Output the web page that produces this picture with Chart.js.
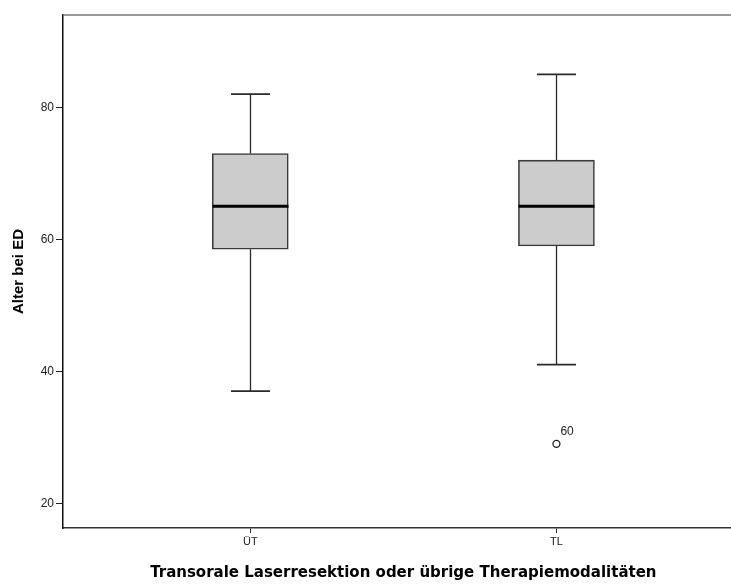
<!DOCTYPE html>
<html>
<head>
<meta charset="utf-8">
<script src="https://cdn.jsdelivr.net/npm/chart.js@4"></script>
<style>
    html, body { margin: 0; padding: 0; background: #fff; }
    #wrap { width: 731px; height: 584px; overflow: hidden; }
</style>
</head>
<body>
<div id="wrap"><canvas id="boxChart" width="749" height="584"></canvas></div>
<script>
// Age at diagnosis per therapy group (box plot statistics)
const groups = ['ÜT', 'TL'];
const groupPos = [1, 2];
const whiskerLow = [37, 41];
const q1 = [58.5, 59];
const median = [65, 65];
const q3 = [73, 72];
const whiskerHigh = [82, 85];

// Outliers: group index, value, case number
const outlierGroup = [1];
const outlierValue = [29];
const outlierCase = ['60'];

const yTicks = [20, 40, 60, 80];

const boxData = groupPos.map((x, i) => ({ x: x, y: [q1[i], q3[i]] }));
const outlierData = outlierGroup.map((g, i) => ({ x: groupPos[g], y: outlierValue[i], label: outlierCase[i] }));

// whiskers, caps, median lines and outlier labels, placed with the chart scales
const boxExtras = {
    id: 'boxExtras',
    afterDatasetsDraw(chart) {
        const { ctx, scales: { x, y } } = chart;
        const capHalf = 19.5;
        const boxHalf = 38;
        ctx.save();
        groupPos.forEach((pos, i) => {
            const cx = Math.round(x.getPixelForValue(pos)) + 0.5;
            ctx.strokeStyle = '#2a2a2a';
            ctx.lineWidth = 1.3;
            // stems
            ctx.beginPath();
            ctx.moveTo(cx, y.getPixelForValue(whiskerHigh[i]));
            ctx.lineTo(cx, y.getPixelForValue(q3[i]));
            ctx.moveTo(cx, y.getPixelForValue(q1[i]));
            ctx.lineTo(cx, y.getPixelForValue(whiskerLow[i]));
            ctx.stroke();
            // caps
            ctx.lineWidth = 1.8;
            ctx.beginPath();
            [whiskerHigh[i], whiskerLow[i]].forEach(v => {
                const py = y.getPixelForValue(v);
                ctx.moveTo(cx - capHalf, py);
                ctx.lineTo(cx + capHalf, py);
            });
            ctx.stroke();
            // median
            ctx.strokeStyle = '#000';
            ctx.lineWidth = 3;
            ctx.beginPath();
            const my = y.getPixelForValue(median[i]);
            ctx.moveTo(cx - boxHalf, my);
            ctx.lineTo(cx + boxHalf, my);
            ctx.stroke();
        });
        // case numbers next to outliers
        ctx.fillStyle = '#222';
        ctx.font = '12px "Liberation Sans", Arial, sans-serif';
        ctx.textAlign = 'left';
        ctx.textBaseline = 'middle';
        outlierData.forEach(p => {
            ctx.fillText(p.label, x.getPixelForValue(p.x) + 4, y.getPixelForValue(p.y) - 12);
        });
        // top frame line
        const area = chart.chartArea;
        ctx.strokeStyle = '#777';
        ctx.lineWidth = 1.5;
        ctx.beginPath();
        ctx.moveTo(area.left, area.top);
        ctx.lineTo(area.right, area.top);
        ctx.stroke();
        ctx.restore();
    }
};

new Chart(document.getElementById('boxChart'), {
    type: 'bar',
    data: {
        datasets: [
            {
                type: 'bar',
                data: boxData,
                backgroundColor: '#cccccc',
                borderColor: '#3a3a3a',
                borderWidth: 1.6,
                borderSkipped: false,
                barThickness: 76,
                order: 2
            },
            {
                type: 'scatter',
                data: outlierData,
                pointStyle: 'circle',
                pointRadius: 3.5,
                pointBorderWidth: 1.3,
                pointBackgroundColor: '#fff',
                pointBorderColor: '#222',
                order: 1
            }
        ]
    },
    options: {
        responsive: false,
        animation: false,
        layout: { padding: { top: 15, right: 0, left: 0, bottom: 0 } },
        plugins: {
            legend: { display: false },
            tooltip: { enabled: false }
        },
        scales: {
            x: {
                type: 'linear',
                offset: false,
                min: 0.3883,
                max: 2.6117,
                afterBuildTicks: s => { s.ticks = groupPos.map(v => ({ value: v })); },
                afterFit: s => { s.height = 56; s.paddingLeft = 0; s.paddingRight = 0; },
                grid: { offset: false, drawOnChartArea: false, drawTicks: true, tickLength: 5, color: '#333' },
                border: { display: true, color: '#333', width: 1.5 },
                ticks: {
                    color: '#222',
                    padding: 2,
                    maxRotation: 0,
                    autoSkip: false,
                    font: { family: '"Liberation Sans", Arial, sans-serif', size: 11 },
                    callback: v => groups[groupPos.indexOf(v)] || ''
                },
                title: {
                    display: true,
                    text: 'Transorale Laserresektion oder übrige Therapiemodalitäten',
                    color: '#000',
                    font: { family: '"DejaVu Sans", sans-serif', size: 15, weight: 'bold' },
                    padding: { top: 0, bottom: 2 }
                }
            },
            y: {
                min: 16.25,
                max: 94,
                afterBuildTicks: s => { s.ticks = yTicks.map(v => ({ value: v })); },
                afterFit: s => { s.width = 63; },
                grid: { drawOnChartArea: false, drawTicks: true, tickLength: 7, color: '#222' },
                border: { display: true, color: '#111', width: 1.5 },
                ticks: {
                    color: '#222',
                    padding: 2,
                    font: { family: '"Liberation Sans", Arial, sans-serif', size: 12 }
                },
                title: {
                    display: true,
                    text: 'Alter bei ED',
                    color: '#000',
                    font: { family: '"Liberation Sans", Arial, sans-serif', size: 15, weight: 'bold' },
                    padding: { top: 10, bottom: 0 }
                }
            }
        }
    },
    plugins: [boxExtras]
});
</script>
</body>
</html>
